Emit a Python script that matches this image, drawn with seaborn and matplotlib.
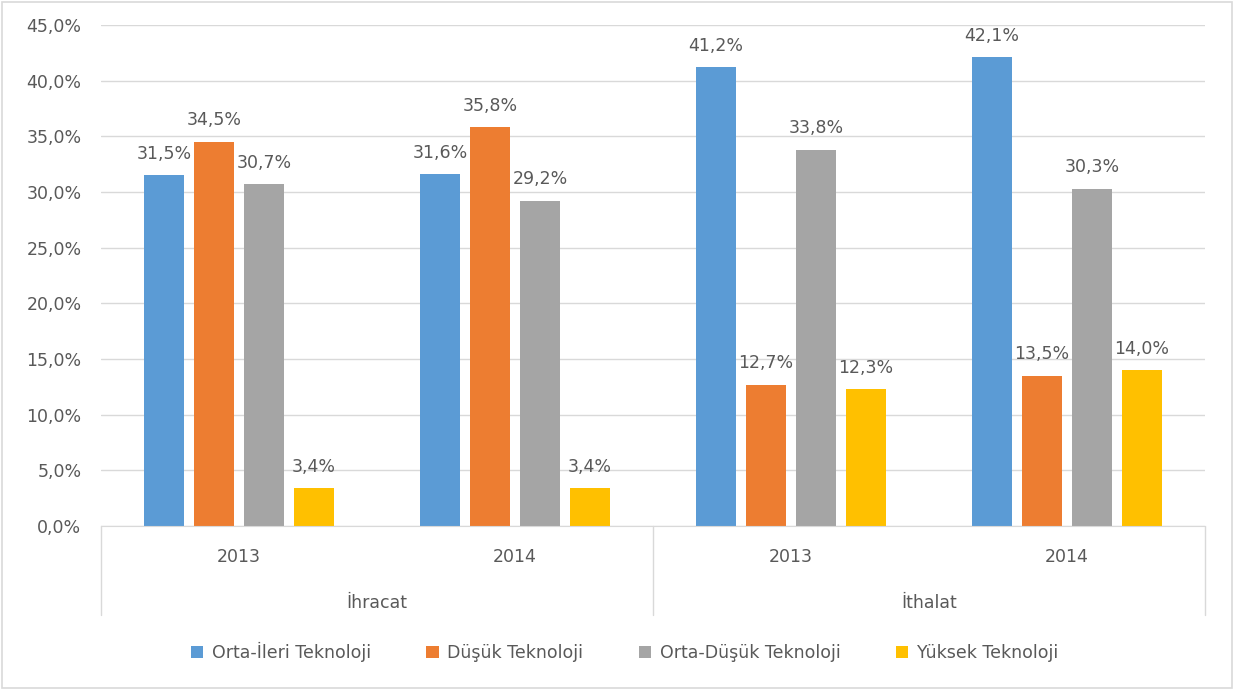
import matplotlib
matplotlib.use('Agg')
import matplotlib.pyplot as plt
import matplotlib.transforms as mtransforms
from matplotlib.patches import Rectangle
from matplotlib.ticker import FuncFormatter
import seaborn as sns
import pandas as pd

# Veriler
groups = ['İhracat', 'İhracat', 'İthalat', 'İthalat']
years = ['2013', '2014', '2013', '2014']
series = ['Orta-İleri Teknoloji', 'Düşük Teknoloji', 'Orta-Düşük Teknoloji', 'Yüksek Teknoloji']
orta_ileri = [31.5, 31.6, 41.2, 42.1]
dusuk = [34.5, 35.8, 12.7, 13.5]
orta_dusuk = [30.7, 29.2, 33.8, 30.3]
yuksek = [3.4, 3.4, 12.3, 14.0]
colors = ['#5B9BD5', '#ED7D31', '#A5A5A5', '#FFC000']

cats = [f'{g} {y}' for g, y in zip(groups, years)]
rows = []
for name, vals in zip(series, [orta_ileri, dusuk, orta_dusuk, yuksek]):
    for c, v in zip(cats, vals):
        rows.append({'cat': c, 'series': name, 'value': v})
df = pd.DataFrame(rows)

sns.set_style('white')
plt.rcParams['font.family'] = ['DejaVu Sans']
text_col = '#595959'
grid_col = '#D9D9D9'
fs = 12.5

fig = plt.figure(figsize=(12.34, 6.9), dpi=100)
ax = fig.add_axes([0.0818, 0.2377, 0.8947, 0.7261])

sns.barplot(data=df, x='cat', y='value', hue='series', order=cats, hue_order=series,
            palette=colors, saturation=1, width=0.725, gap=0.2, linewidth=0, ax=ax)

ax.set_ylim(0, 45)
ax.set_yticks(range(0, 46, 5))
ax.yaxis.set_major_formatter(FuncFormatter(lambda v, _: f'{v:.1f}%'.replace('.', ',')))
ax.set_xlim(-0.5, len(cats) - 0.5)
ax.grid(axis='y', color=grid_col, linewidth=1)
ax.set_axisbelow(True)
for s in ['left', 'top', 'right']:
    ax.spines[s].set_visible(False)
ax.spines['bottom'].set_color(grid_col)
ax.tick_params(axis='both', length=0, colors=text_col, labelsize=fs)
ax.tick_params(axis='y', pad=14)
ax.tick_params(axis='x', pad=16)
ax.set_xticks(range(len(cats)))
ax.set_xticklabels(years)
ax.set_xlabel('')
ax.set_ylabel('')

# veri etiketleri
for cont in ax.containers:
    labels = [f'{v:.1f}%'.replace('.', ',') for v in cont.datavalues]
    ax.bar_label(cont, labels=labels, padding=9, color=text_col, fontsize=fs)

# çok seviyeli kategori ekseni
trans = mtransforms.blended_transform_factory(ax.transData, ax.transAxes)
uniq = list(dict.fromkeys(groups))
bounds = [-0.5]
for g in uniq:
    idx = [i for i, gg in enumerate(groups) if gg == g]
    bounds.append(idx[-1] + 0.5)
    ax.text((idx[0] + idx[-1]) / 2, -0.154, g, transform=trans, ha='center', va='center',
            color=text_col, fontsize=fs)
for b in bounds:
    ax.plot([b, b], [0, -0.178], transform=trans, color=grid_col, linewidth=1, clip_on=False)

sns.move_legend(ax, 'center', bbox_to_anchor=(0.506, 0.055), bbox_transform=fig.transFigure,
                ncol=4, frameon=False, title=None, fontsize=fs, handlelength=0.7,
                handleheight=0.7, handletextpad=0.5, columnspacing=3.2)
for t in ax.get_legend().get_texts():
    t.set_color(text_col)

fig.patches.append(Rectangle((0.002, 0.003), 0.996, 0.994, transform=fig.transFigure,
                             fill=False, edgecolor=grid_col, linewidth=1.2))

plt.savefig('out.png', dpi=100)
